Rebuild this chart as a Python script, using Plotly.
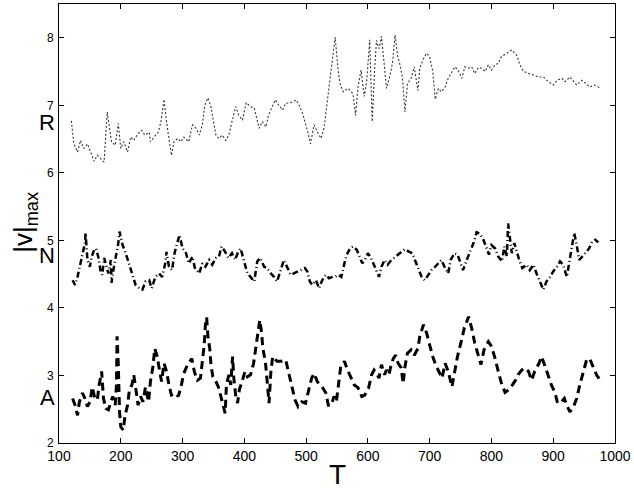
import plotly.graph_objects as go

# R series (dotted, top)
t_r = [120, 124, 130, 135, 140, 146, 151, 157, 162, 167, 173, 178, 181, 185, 191, 196, 200, 205,
       211, 216, 221, 227, 234, 239, 246, 248, 254, 261, 265, 270, 274, 278, 282, 286, 292, 297,
       302, 310, 316, 322, 327, 332, 336, 341, 346, 350, 354, 359, 364, 370, 375, 380, 386, 391,
       397, 403, 410, 416, 421, 424, 429, 435, 439, 445, 450, 456, 462, 467, 475, 484, 490, 495,
       500, 504, 507, 513, 518, 524, 529, 532, 536, 541, 547, 552, 555, 560, 568, 576, 580, 584,
       589, 594, 598, 603, 607, 611, 614, 618, 622, 627, 630, 636, 640, 644, 648, 652, 656, 660,
       664, 670, 675, 681, 684, 690, 695, 700, 705, 709, 714, 719, 725, 730, 736, 741, 746, 752,
       757, 763, 768, 773, 779, 784, 790, 795, 800, 806, 811, 816, 825, 833, 841, 846, 852, 860,
       868, 876, 884, 892, 900, 906, 914, 919, 927, 932, 938, 946, 954, 959, 967, 975]
r_vals = [6.77, 6.43, 6.31, 6.48, 6.36, 6.43, 6.31, 6.17, 6.26, 6.22, 6.16, 6.90, 6.71, 6.46, 6.41,
          6.73, 6.36, 6.46, 6.31, 6.53, 6.48, 6.57, 6.63, 6.56, 6.60, 6.46, 6.53, 6.61, 6.76, 7.09,
          6.76, 6.51, 6.26, 6.46, 6.51, 6.46, 6.53, 6.46, 6.71, 6.66, 6.56, 6.71, 7.00, 7.11, 6.98,
          6.76, 6.56, 6.51, 6.56, 6.48, 6.56, 6.76, 6.98, 6.85, 6.78, 7.04, 6.98, 6.96, 6.78, 6.66,
          6.76, 6.68, 6.85, 6.98, 7.08, 7.00, 6.93, 7.03, 7.04, 7.08, 6.98, 6.86, 6.71, 6.56, 6.43,
          6.71, 6.61, 6.51, 6.66, 6.88, 7.20, 7.60, 8.01, 7.50, 7.32, 7.20, 7.25, 7.17, 6.85, 7.27,
          7.52, 7.13, 7.35, 7.97, 6.76, 7.55, 7.96, 7.84, 8.02, 7.55, 7.25, 7.45, 7.64, 8.04, 7.74,
          7.60, 7.40, 6.90, 7.32, 7.40, 7.57, 7.22, 7.55, 7.69, 7.77, 7.72, 7.50, 7.09, 7.25, 7.20,
          7.27, 7.40, 7.50, 7.57, 7.52, 7.40, 7.57, 7.55, 7.57, 7.47, 7.56, 7.55, 7.50, 7.60, 7.52,
          7.60, 7.62, 7.72, 7.77, 7.82, 7.74, 7.60, 7.50, 7.47, 7.45, 7.42, 7.42, 7.35, 7.30, 7.37,
          7.40, 7.35, 7.42, 7.37, 7.30, 7.37, 7.32, 7.27, 7.30, 7.26]

# N series (dash-dot, middle)
t_n = [122, 126, 130, 133, 138, 142, 143, 146, 150, 153, 157, 160, 164, 167, 170, 173, 177, 180,
       184, 185, 189, 192, 196, 198, 203, 208, 213, 219, 224, 230, 235, 240, 246, 250, 256, 262,
       267, 272, 274, 278, 283, 287, 292, 295, 300, 305, 310, 316, 320, 327, 332, 337, 343, 348,
       354, 359, 363, 369, 374, 380, 385, 390, 394, 400, 405, 410, 416, 421, 426, 432, 437, 443,
       448, 453, 459, 464, 470, 475, 480, 486, 491, 498, 502, 506, 510, 516, 521, 526, 532, 537,
       543, 547, 552, 557, 562, 566, 571, 576, 582, 587, 591, 595, 600, 605, 610, 614, 618, 622,
       627, 632, 638, 645, 652, 660, 667, 672, 677, 683, 687, 692, 698, 703, 709, 714, 719, 725,
       730, 734, 740, 745, 751, 754, 760, 765, 771, 776, 781, 787, 792, 796, 800, 806, 811, 817,
       821, 825, 827, 830, 833, 837, 841, 845, 850, 857, 862, 868, 873, 879, 884, 889, 895, 900,
       906, 911, 916, 922, 927, 931, 934, 938, 942, 947, 953, 958, 963, 968, 973]
n_vals = [4.41, 4.34, 4.46, 4.59, 4.76, 4.96, 5.11, 4.71, 4.61, 4.76, 4.86, 4.88, 4.74, 4.56, 4.49,
          4.74, 4.61, 4.51, 4.71, 4.37, 4.61, 4.74, 4.96, 5.13, 4.93, 4.81, 4.66, 4.51, 4.34, 4.29,
          4.27, 4.39, 4.41, 4.29, 4.46, 4.51, 4.46, 4.66, 4.83, 4.61, 4.56, 4.81, 4.96, 5.08, 4.88,
          4.83, 4.66, 4.76, 4.59, 4.51, 4.66, 4.61, 4.71, 4.64, 4.74, 4.76, 4.91, 4.83, 4.74, 4.81,
          4.71, 4.83, 4.88, 4.66, 4.51, 4.46, 4.39, 4.69, 4.74, 4.61, 4.59, 4.51, 4.46, 4.39, 4.56,
          4.71, 4.59, 4.49, 4.51, 4.54, 4.56, 4.59, 4.54, 4.39, 4.34, 4.41, 4.29, 4.41, 4.49, 4.44,
          4.46, 4.46, 4.49, 4.46, 4.66, 4.79, 4.88, 4.91, 4.86, 4.76, 4.66, 4.71, 4.81, 4.74, 4.64,
          4.54, 4.46, 4.61, 4.71, 4.64, 4.71, 4.76, 4.81, 4.87, 4.83, 4.81, 4.69, 4.56, 4.46, 4.41,
          4.49, 4.56, 4.61, 4.66, 4.71, 4.59, 4.51, 4.71, 4.81, 4.79, 4.64, 4.56, 4.71, 4.83, 4.96,
          5.12, 5.10, 5.01, 4.88, 4.79, 4.93, 4.88, 4.76, 4.69, 4.91, 4.76, 5.25, 5.01, 4.81, 4.96,
          4.83, 4.71, 4.59, 4.64, 4.56, 4.64, 4.51, 4.39, 4.27, 4.39, 4.46, 4.54, 4.61, 4.69, 4.64,
          4.46, 4.71, 4.91, 5.11, 4.93, 4.71, 4.76, 4.83, 4.88, 4.98, 5.01, 4.97]

# A series (dashed, bottom)
t_a = [122, 126, 130, 133, 138, 142, 146, 150, 154, 158, 162, 165, 169, 172, 176, 180, 184, 187,
       191, 193, 194, 196, 198, 200, 204, 207, 211, 214, 218, 221, 225, 228, 232, 236, 240, 245,
       248, 252, 255, 259, 263, 266, 270, 274, 278, 282, 288, 293, 297, 302, 308, 315, 319, 324,
       329, 332, 335, 337, 339, 341, 344, 346, 349, 354, 358, 362, 366, 369, 371, 375, 378, 381,
       383, 386, 389, 392, 397, 401, 405, 410, 415, 418, 422, 425, 428, 430, 434, 437, 440, 443,
       446, 453, 460, 467, 471, 477, 482, 487, 493, 499, 505, 509, 513, 518, 522, 526, 532, 536,
       541, 545, 549, 553, 556, 562, 567, 573, 578, 584, 590, 595, 601, 606, 610, 614, 618, 622,
       627, 630, 634, 637, 641, 645, 649, 654, 657, 660, 664, 670, 675, 681, 684, 690, 695, 700,
       706, 711, 717, 720, 725, 730, 736, 740, 745, 751, 756, 763, 768, 773, 778, 783, 788, 795,
       800, 806, 811, 817, 822, 828, 834, 839, 843, 849, 854, 860, 865, 870, 877, 881, 887, 892,
       897, 903, 907, 913, 918, 922, 927, 933, 938, 943, 949, 954, 959, 965, 970, 976]
a_vals = [2.66, 2.56, 2.41, 2.61, 2.74, 2.66, 2.54, 2.61, 2.83, 2.66, 2.64, 2.86, 3.06, 2.66, 2.51,
          2.49, 2.61, 2.69, 2.56, 2.86, 3.58, 3.16, 2.46, 2.24, 2.19, 2.41, 2.56, 2.79, 2.86, 3.01,
          2.76, 2.56, 2.69, 2.61, 2.83, 2.61, 2.91, 3.13, 3.40, 3.28, 3.06, 2.91, 3.18, 3.06, 2.86,
          2.71, 2.74, 2.69, 2.81, 3.03, 3.16, 3.25, 3.06, 2.93, 2.96, 3.18, 3.45, 3.75, 3.86, 3.58,
          3.40, 3.16, 2.98, 2.91, 2.83, 2.69, 2.56, 2.44, 2.86, 3.01, 2.86, 3.28, 2.96, 2.71, 2.59,
          2.79, 2.93, 3.06, 2.98, 3.01, 3.18, 3.40, 3.63, 3.82, 3.63, 3.40, 3.21, 2.91, 2.59, 3.06,
          3.28, 3.21, 3.21, 3.23, 3.06, 2.83, 2.64, 2.54, 2.61, 2.59, 2.83, 2.96, 3.03, 2.91, 2.86,
          2.83, 2.74, 2.56, 2.56, 2.69, 2.61, 2.88, 3.13, 3.21, 3.08, 2.96, 2.86, 2.82, 2.69, 2.71,
          2.81, 3.01, 3.08, 3.03, 2.96, 3.16, 3.01, 3.08, 3.01, 3.13, 3.25, 3.30, 3.18, 3.11, 2.88,
          3.13, 3.33, 3.38, 3.30, 3.40, 3.58, 3.75, 3.63, 3.45, 3.25, 3.13, 3.01, 2.96, 3.18, 3.06,
          2.83, 3.06, 3.28, 3.50, 3.70, 3.87, 3.70, 3.48, 3.30, 3.16, 3.38, 3.50, 3.43, 3.25, 3.06,
          2.86, 2.75, 2.79, 2.86, 2.93, 3.01, 3.08, 3.11, 3.06, 2.93, 3.06, 3.18, 3.28, 3.13, 2.98,
          2.86, 2.74, 2.59, 2.61, 2.66, 2.56, 2.46, 2.54, 2.66, 2.86, 3.08, 3.23, 3.25, 3.13, 3.01,
          2.93]

fig = go.Figure()
fig.add_trace(go.Scatter(x=t_r, y=r_vals, mode="lines",
                         line=dict(color="#333333", width=1.1, dash="2px,2px")))
fig.add_trace(go.Scatter(x=t_n, y=n_vals, mode="lines",
                         line=dict(color="black", width=2.5, dash="6px,3px,1px,3px")))
fig.add_trace(go.Scatter(x=t_a, y=a_vals, mode="lines",
                         line=dict(color="black", width=3, dash="8px,5px")))

axis_common = dict(showline=True, linecolor="black", linewidth=1, mirror="ticks",
                   ticks="inside", ticklen=5, tickcolor="black", showgrid=False,
                   zeroline=False)

fig.update_layout(
    template="none",
    width=634, height=491,
    margin=dict(l=59, r=19, t=4, b=48),
    paper_bgcolor="white", plot_bgcolor="white",
    showlegend=False,
    font=dict(family="Liberation Sans, Arial, sans-serif", color="black"),
    xaxis=dict(range=[100, 1000], tickvals=list(range(100, 1001, 100)),
               tickfont=dict(size=14, color="black"), **axis_common),
    yaxis=dict(range=[2, 8.5], tickvals=[2, 3, 4, 5, 6, 7, 8],
               tickfont=dict(size=12, color="black"), ticklabelstandoff=2, **axis_common),
)

# series labels and axis titles
for txt, yv in [("R", 6.74), ("N", 4.77), ("A", 2.67)]:
    fig.add_annotation(text=txt, x=0, xref="paper", y=yv, yref="y", xshift=-12,
                       xanchor="center", yanchor="middle", showarrow=False,
                       font=dict(size=22))

fig.add_annotation(text="|v|<sub>max</sub>", x=0, xref="paper", y=5.26, yref="y",
                   xshift=-34, xanchor="center", yanchor="middle", textangle=-90,
                   showarrow=False, font=dict(size=26))
fig.add_annotation(text="T", x=0.5, xref="paper", y=-0.072, yref="paper",
                   xanchor="center", yanchor="middle", showarrow=False,
                   font=dict(size=28))

fig.write_html("out.html", config={"displayModeBar": False},
               post_script="document.body.style.margin='0';")
